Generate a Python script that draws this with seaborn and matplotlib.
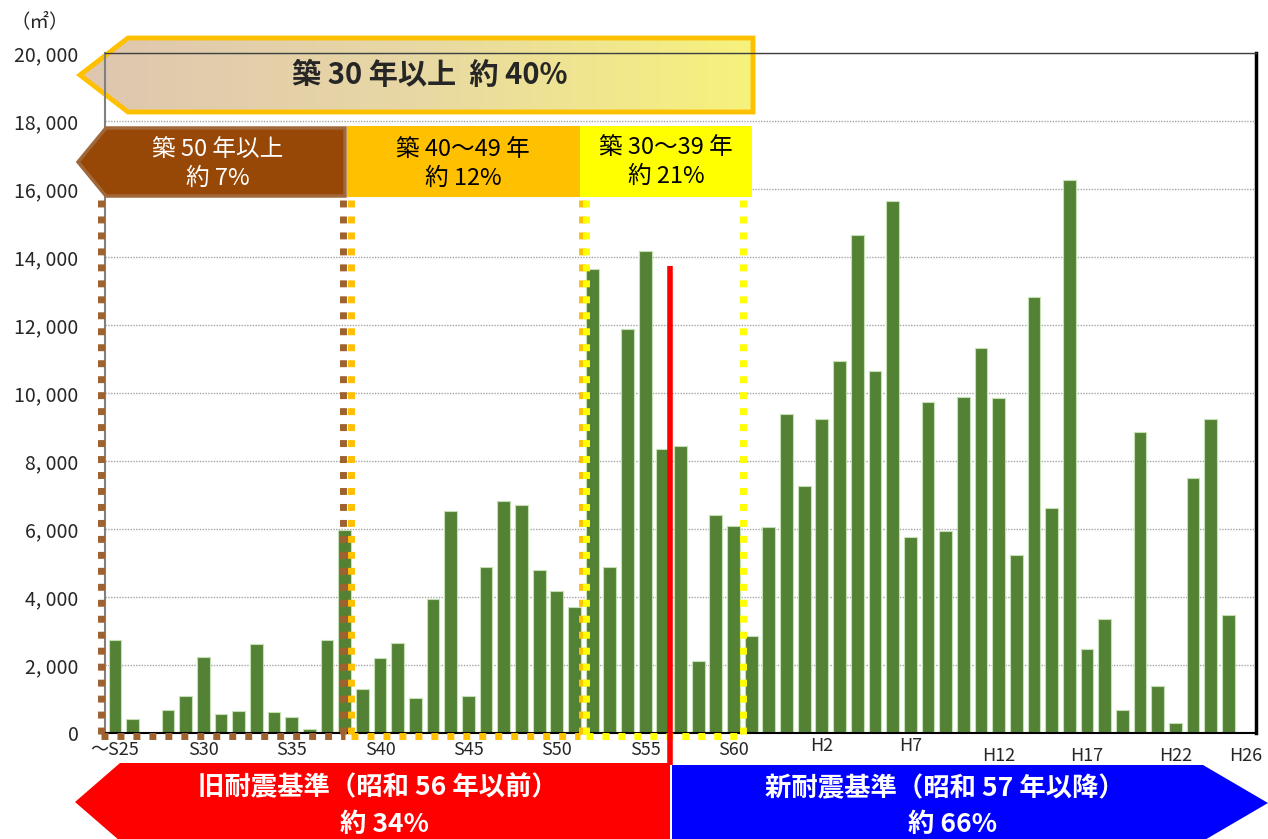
import numpy as np
import matplotlib
matplotlib.use("Agg")
import matplotlib.pyplot as plt
from matplotlib.patches import Polygon, Rectangle
from matplotlib.colors import LinearSegmentedColormap
from matplotlib.transforms import ScaledTranslation
import seaborn as sns

# 建築年度（昭和25年～平成26年）
years = [f"S{n}" for n in range(25, 64)] + [f"H{n}" for n in range(1, 27)]

# 延床面積（㎡）
areas = [2750, 420, 0, 680, 1100, 2240, 560, 650, 2620, 610,
         460, 130, 2740, 5970, 1290, 2200, 2640, 1020, 3930, 6530,
         1080, 4890, 6820, 6710, 4780, 4180, 3700, 13650, 4870, 11870,
         14180, 8360, 8440, 2130, 6410, 6090, 2840, 6050, 9390,
         7260, 9250, 10930, 14660, 10650, 15660, 5760, 9740, 5940, 9890,
         11310, 9860, 5240, 12810, 6630, 16270, 2460, 3350, 670, 8860,
         1380, 280, 7490, 9250, 3470, 30]

tick_years = ["S25", "S30", "S35", "S40", "S45", "S50", "S55", "S60",
              "H2", "H7", "H12", "H17", "H22", "H26"]
tick_labels = ["～S25", "S30", "S35", "S40", "S45", "S50", "S55", "S60",
               "H2", "H7", "H12", "H17", "H22", "H26"]
y_ticks = list(range(0, 20001, 2000))

W, H = 1268, 839

sns.set_style("white")
plt.rcParams["font.family"] = ["Noto Sans CJK JP", "DejaVu Sans"]

fig = plt.figure(figsize=(W / 100, H / 100), dpi=100)
fig.patch.set_facecolor("white")


def box(x0, y0, x1, y1):
    # ピクセル座標 -> figure 座標
    return [x0 / W, 1 - y1 / H, (x1 - x0) / W, (y1 - y0) / H]


def overlay(z):
    a = fig.add_axes([0, 0, 1, 1], zorder=z)
    a.set_xlim(0, W)
    a.set_ylim(H, 0)
    a.axis("off")
    a.patch.set_alpha(0)
    return a


ax_bg = overlay(0)
ax = fig.add_axes(box(105, 53, 1256, 733), zorder=1)
ax.patch.set_alpha(0)
ax_fg = overlay(2)

# 棒グラフ
sns.barplot(x=years, y=areas, order=years, color="#548235", saturation=1,
            width=0.72, edgecolor="#C5E0B4", linewidth=0.8, ax=ax)
ax.set_xlim(-0.57, 64.57)
ax.set_ylim(0, 20000)
ax.set_xlabel("")
ax.set_ylabel("")
ax.set_yticks(y_ticks)
ax.set_yticklabels([f"{v:,}".replace(",", ", ") for v in y_ticks])
ax.set_xticks([years.index(t) for t in tick_years])
ax.set_xticklabels(tick_labels)
ax.tick_params(axis="x", length=0, pad=6, labelsize=13)
ax.tick_params(axis="y", length=6, color="#808080", width=1, labelsize=14, pad=13)
ax.grid(axis="y", linestyle=(0, (1, 1)), color="#A6A6A6", lw=1)
ax.set_axisbelow(True)
for s, c, w in [("left", "#808080", 1.5), ("bottom", "#000000", 1.5),
                ("right", "#000000", 2.5), ("top", "#404040", 1.0)]:
    ax.spines[s].set_visible(True)
    ax.spines[s].set_color(c)
    ax.spines[s].set_linewidth(w)

shift = {"H2": 3, "H7": 3, "H12": -4, "H17": -4, "H22": -4, "H26": -4}
for lab in ax.get_xticklabels():
    dy = shift.get(lab.get_text(), 0)
    if dy:
        lab.set_transform(lab.get_transform() + ScaledTranslation(0, dy / 72, fig.dpi_scale_trans))

fig.text(40 / W, 1 - 22 / H, "（㎡）", fontsize=14, ha="center", va="center")

# 築30年以上（グラデーション矢印）
pts = [(80, 75), (128, 38), (753, 38), (753, 112), (128, 112)]
cmap = LinearSegmentedColormap.from_list("g", ["#DEC6B0", "#E8D8A4", "#F7F27C"])
poly = Polygon(pts, closed=True, facecolor="none", edgecolor="none")
ax_bg.add_patch(poly)
im = ax_bg.imshow(np.linspace(0, 1, 256).reshape(1, -1), extent=(80, 753, 112, 38),
                  cmap=cmap, aspect="auto", zorder=1)
im.set_clip_path(poly)
ax_bg.add_patch(Polygon(pts, closed=True, fill=False, edgecolor="#FFC000",
                        lw=3.5, joinstyle="miter", zorder=2))
ax_bg.set_xlim(0, W)
ax_bg.set_ylim(H, 0)
ax_bg.text(430, 75, "築 30 年以上  約 40%", fontsize=21, fontweight="bold",
           ha="center", va="center", zorder=3)

# 築年数区分
ax_fg.add_patch(Polygon([(78, 162), (106, 128), (345, 128), (345, 196), (106, 196)],
                        closed=True, facecolor="#974706", edgecolor="#A0673A", lw=2.5))
ax_fg.add_patch(Rectangle((347, 126), 233, 71, facecolor="#FFC000", edgecolor="none"))
ax_fg.add_patch(Rectangle((580, 126), 172, 71, facecolor="#FFFF00", edgecolor="none"))
ax_fg.text(218, 164, "築 50 年以上\n約 7%", color="white", fontsize=17,
           ha="center", va="center", linespacing=1.35)
ax_fg.text(463, 164, "築 40～49 年\n約 12%", color="black", fontsize=17,
           ha="center", va="center", linespacing=1.35)
ax_fg.text(666, 162, "築 30～39 年\n約 21%", color="black", fontsize=17,
           ha="center", va="center", linespacing=1.35)

# 点線の区切り
dot = (0, (1, 1.3))
for col, segs in [("#9E6230", [(101, 200, 101, 736), (101, 736, 345, 736), (343, 200, 343, 736)]),
                  ("#FFC000", [(351, 200, 351, 736), (351, 736, 580, 736), (582, 200, 582, 736)]),
                  ("#FFFF00", [(586, 200, 586, 736), (586, 736, 742, 736), (743, 200, 743, 736)])]:
    for x0, y0, x1, y1 in segs:
        ax_fg.plot([x0, x1], [y0, y1], color=col, lw=5, linestyle=dot,
                   dash_capstyle="butt")

# 新旧耐震基準
ax_fg.plot([670, 670], [266, 765], color="#FF0000", lw=4, solid_capstyle="butt")
ax_fg.add_patch(Polygon([(75, 802), (120, 763), (670, 763), (670, 841), (120, 841)],
                        closed=True, facecolor="#FF0000", edgecolor="none", clip_on=False))
ax_fg.add_patch(Polygon([(672, 765), (1203, 765), (1268, 803), (1203, 841), (672, 841)],
                        closed=True, facecolor="#0000FF", edgecolor="none", clip_on=False))
ax_fg.text(378, 788, "旧耐震基準（昭和 56 年以前）", color="white", fontsize=19,
           fontweight="bold", ha="center", va="center")
ax_fg.text(385, 824, "約 34%", color="white", fontsize=19,
           fontweight="bold", ha="center", va="center")
ax_fg.text(945, 789, "新耐震基準（昭和 57 年以降）", color="white", fontsize=19,
           fontweight="bold", ha="center", va="center")
ax_fg.text(953, 824, "約 66%", color="white", fontsize=19,
           fontweight="bold", ha="center", va="center")

fig.savefig("out.png", dpi=100)
